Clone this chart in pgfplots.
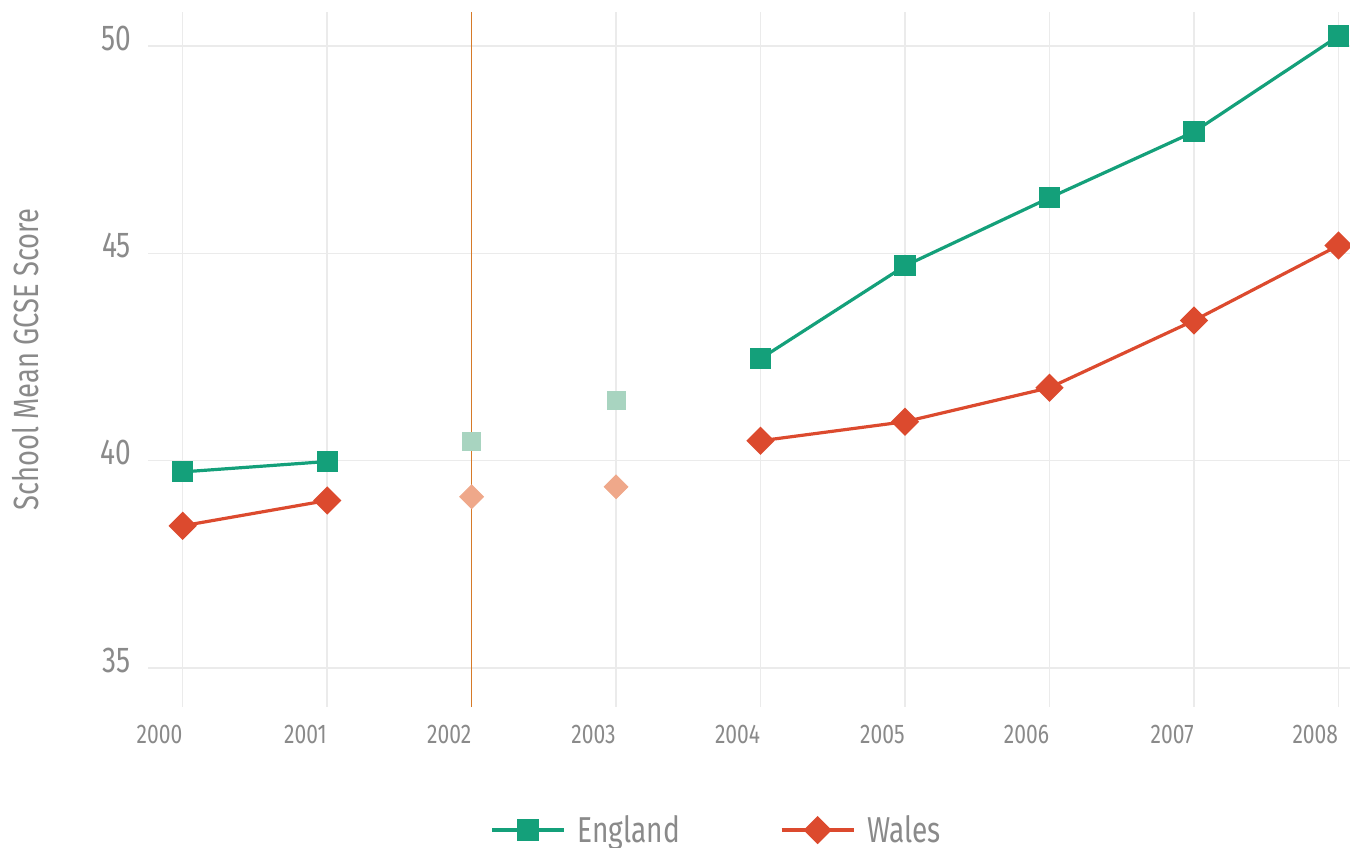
\documentclass[border=0pt]{standalone}
\usepackage{fontspec}
\setmainfont{Fira Sans}[FakeStretch=0.78]
\usepackage{pgfplots}
\pgfplotsset{compat=1.18}
\definecolor{eng}{RGB}{20,160,122}
\definecolor{wal}{RGB}{220,74,46}
\definecolor{engl}{RGB}{168,212,192}
\definecolor{wall}{RGB}{239,168,138}
\definecolor{txt}{RGB}{138,138,138}
\definecolor{grd}{RGB}{235,235,235}
\definecolor{vline}{RGB}{214,122,40}
\begin{document}
\begin{tikzpicture}
\begin{axis}[
  scale only axis, width=601pt, height=347.5pt,
  xmin=1999.76, xmax=2008.08, ymin=34.06, ymax=50.82,
  axis line style={draw=none}, major tick length=0pt,
  xtick={2000,2001,2002,2003,2004,2005,2006,2007,2008},
  ytick={35,40,45,50},
  grid=major, major grid style={grd, line width=0.75pt},
  /pgf/number format/assume math mode=true,
  x tick label style={/pgf/number format/1000 sep={}, anchor=north east, inner xsep=0pt, yshift=-5.5pt, font=\fontsize{13.5}{15}\selectfont, text=txt},
  y tick label style={anchor=east, xshift=-5pt, yshift=4pt, font=\fontsize{18}{20}\selectfont, text=txt},
  ylabel={School Mean GCSE Score},
  ylabel style={at={(axis description cs:-0.1016,0.5)}, anchor=center, font=\fontsize{17.5}{20}\selectfont, text=txt},
  unbounded coords=jump,
  legend columns=2,
  legend style={at={(0.474,-0.177)}, anchor=center, draw=none, fill=none,
    font=\fontsize{18}{20}\selectfont, text=txt,
    /tikz/every odd column/.append style={column sep=4pt},
    /tikz/every even column/.append style={column sep=48pt}},
  legend image code/.code={\draw[mark repeat=2, mark phase=2] plot coordinates {(0pt,0pt)(18pt,0pt)(36pt,0pt)};},
]
\coordinate (bl) at (rel axis cs:0,0);
\coordinate (tr) at (rel axis cs:1,1);
\addplot[only marks, engl, mark=square*, mark size=4.5pt, forget plot] coordinates {(2002,40.46)(2003,41.45)};
\addplot[only marks, wall, mark=square*, mark size=4.2pt, mark options={rotate=45}, forget plot] coordinates {(2002,39.13)(2003,39.37)};
\addplot[vline, line width=0.5pt, forget plot] coordinates {(2002,34.06)(2002,50.82)};
\addplot[eng, line width=1.6pt, mark=square*, mark size=4.5pt, mark options={solid}] coordinates {
(2000,39.73)(2001,39.98)(2002,nan)(2003,nan)(2004,42.46)(2005,44.70)(2006,46.34)(2007,47.93)(2008,50.24)};
\addlegendentry{England}
\addplot[wal, line width=1.6pt, mark=square*, mark size=4.2pt, mark options={solid, rotate=45}] coordinates {
(2000,38.43)(2001,39.04)(2002,nan)(2003,nan)(2004,40.48)(2005,40.94)(2006,41.76)(2007,43.38)(2008,45.19)};
\addlegendentry{Wales}
\end{axis}
\pgfresetboundingbox
\path ([shift={(-74pt,-70pt)}]bl) rectangle ([shift={(0pt,6pt)}]tr);
\end{tikzpicture}
\end{document}
